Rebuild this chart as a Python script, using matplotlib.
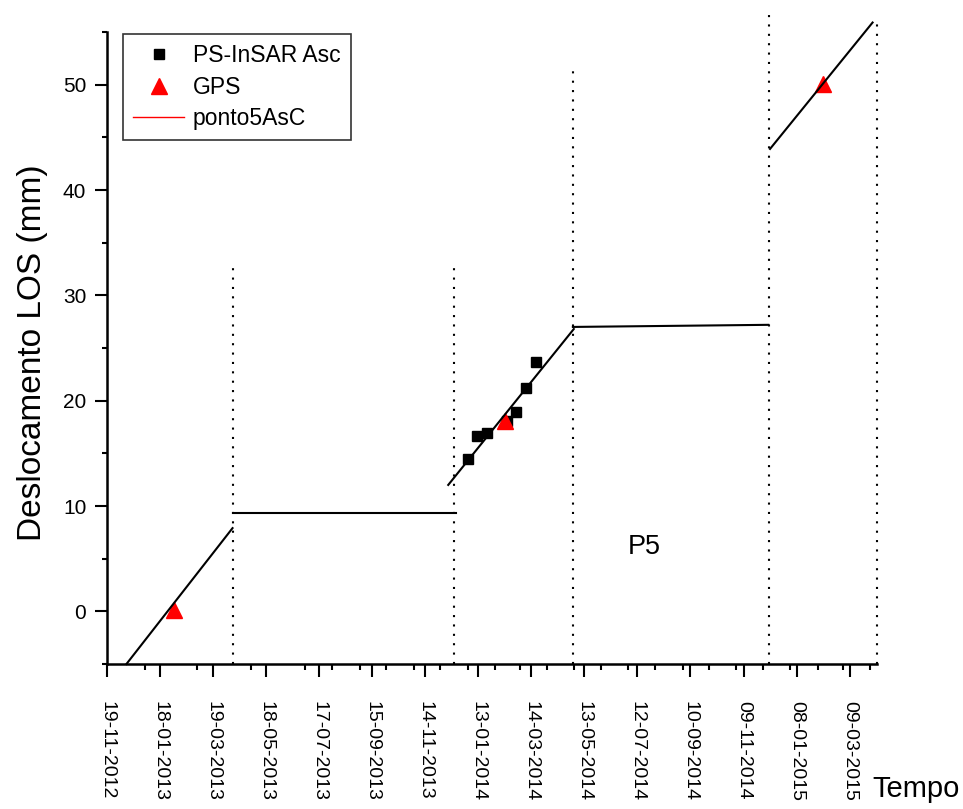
import matplotlib
matplotlib.use('Agg')
import matplotlib.pyplot as plt
import matplotlib.dates as mdates
from matplotlib.lines import Line2D
import numpy as np
import pandas as pd

plt.rcParams['font.family'] = ['Liberation Sans', 'DejaVu Sans']

# PS-InSAR ascending points
ps_dates = ['2014-01-01', '2014-01-12', '2014-01-23', '2014-02-14',
            '2014-02-25', '2014-03-08', '2014-03-19']
ps_vals = [14.5, 16.6, 16.9, 18.1, 18.9, 21.2, 23.7]

# GPS points
gps_dates = ['2013-02-03', '2014-02-12', '2015-02-07']
gps_vals = [0.1, 18.1, 50.1]

# fitted segments (ponto5AsC)
seg_start_dates = ['2012-12-11', '2013-04-10', '2013-12-10', '2014-04-30', '2014-12-09']
seg_end_dates = ['2013-04-10', '2013-12-19', '2014-05-01', '2014-12-07', '2015-04-04']
seg_start_vals = [-5.0, 9.35, 12.0, 27.0, 43.9]
seg_end_vals = [7.9, 9.35, 26.8, 27.2, 55.9]

# dotted separators
sep_dates = ['2013-04-10', '2013-12-16', '2014-04-30', '2014-12-08', '2015-04-09']
sep_tops = [33.1, 32.9, 51.4, 57.1, 56.0]

# axis ticks
xtick_dates = pd.date_range('2012-11-19', '2015-03-09', freq='60D')
xminor_dates = list(pd.to_datetime(['2013-01-01', '2013-03-01', '2013-05-01'])) + \
    list(pd.date_range('2013-07-01', '2015-04-01', freq='MS'))
x_start, x_end = '2012-11-19', '2015-04-09'
y_min, y_max = -5, 55

fig = plt.figure(figsize=(9.63, 8.09), dpi=100)
ax = fig.add_axes([107 / 963, 1 - 664 / 809, 770 / 963, 632 / 809])

to_dt = pd.to_datetime

for x, top in zip(sep_dates, sep_tops):
    ax.plot([to_dt(x), to_dt(x)], [y_min, top], color='black', lw=1.5,
            linestyle=(0, (1, 3.5)), clip_on=False, zorder=1)

ax.plot(to_dt(ps_dates), ps_vals, 's', color='black', ms=6.5, zorder=3)
ax.plot(to_dt(gps_dates), gps_vals, '^', color='red', ms=11, zorder=4)

for xs, xe, ys, ye in zip(seg_start_dates, seg_end_dates, seg_start_vals, seg_end_vals):
    ax.plot([to_dt(xs), to_dt(xe)], [ys, ye], color='black', lw=1.5,
            clip_on=False, zorder=5)

ax.set_xlim(to_dt(x_start), to_dt(x_end))
ax.set_ylim(y_min, y_max)

ax.set_xticks(xtick_dates)
ax.set_xticks(xminor_dates, minor=True)
ax.xaxis.set_major_formatter(mdates.DateFormatter('%d-%m-%Y'))
ax.set_yticks(np.arange(0, 51, 10))
ax.set_yticks(np.arange(-5, 56, 5), minor=True)

for s in ['top', 'right']:
    ax.spines[s].set_visible(False)
for s in ['left', 'bottom']:
    ax.spines[s].set_linewidth(1.8)

ax.tick_params(axis='x', which='major', direction='out', length=9.4, width=1.5,
               pad=17, labelsize=14, labelrotation=-90)
ax.tick_params(axis='x', which='minor', direction='out', length=4.3, width=1.5)
ax.tick_params(axis='y', which='major', direction='out', length=8.4, width=1.5,
               pad=6.5, labelsize=15)
ax.tick_params(axis='y', which='minor', direction='out', length=3.6, width=1.5)
for lab in ax.get_xticklabels():
    lab.set_verticalalignment('top')
    lab.set_horizontalalignment('center')

handles = [
    Line2D([], [], marker='s', color='black', linestyle='none', ms=7),
    Line2D([], [], marker='^', color='red', linestyle='none', ms=11),
    Line2D([], [], color='red', lw=1),
]
leg = fig.legend(handles, ['PS-InSAR Asc', 'GPS', 'ponto5AsC'],
                 loc='upper left', bbox_to_anchor=(123 / 963, 1 - 34 / 809),
                 fontsize=16.5, frameon=True, fancybox=False, borderpad=0.45,
                 labelspacing=0.36, handlelength=2.2, handletextpad=0.4,
                 borderaxespad=0)
leg.get_frame().set_edgecolor('black')
leg.get_frame().set_linewidth(1.2)

ax.text(to_dt('2014-07-20'), 6.1, 'P5', fontsize=19.5, ha='center', va='center')
fig.text(33 / 963, 1 - 353 / 809, 'Deslocamento LOS (mm)', rotation=90,
         fontsize=24, ha='center', va='center')
fig.text(872 / 963, 1 - 797 / 809, 'Tempo', fontsize=21, ha='left', va='baseline')

fig.savefig('out.png', dpi=100)
